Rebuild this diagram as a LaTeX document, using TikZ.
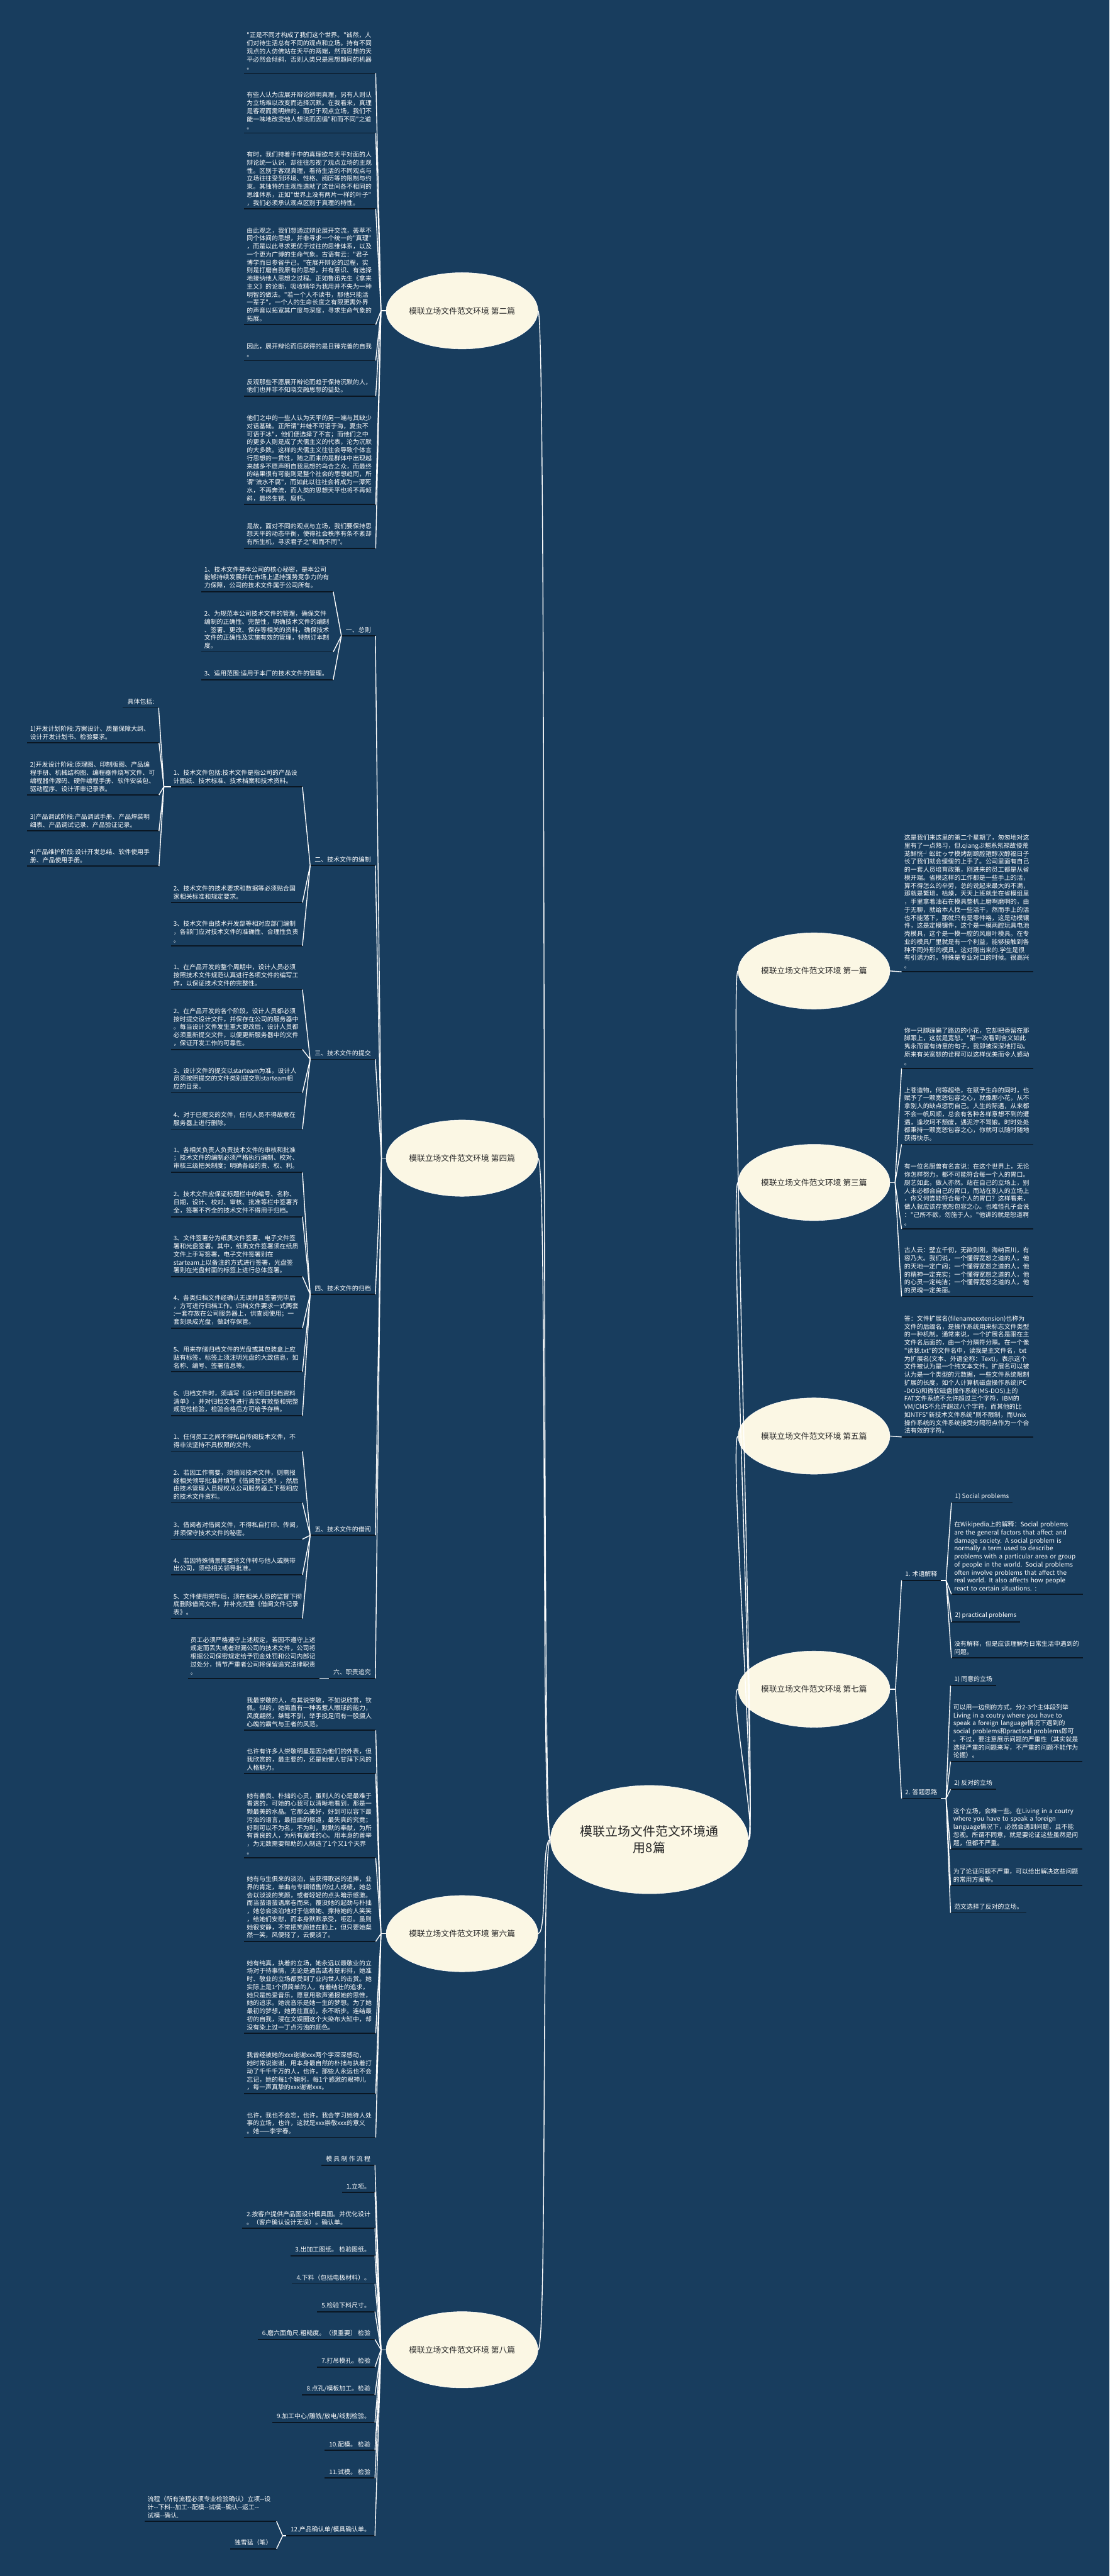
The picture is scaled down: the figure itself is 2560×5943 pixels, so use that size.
\documentclass[tikz,border=0pt]{standalone}
\usepackage{fontspec}
\newfontfamily\cjk{Noto Sans CJK SC}
\usetikzlibrary{shapes.geometric}
\definecolor{bgblue}{RGB}{24,61,94}
\definecolor{topicfill}{RGB}{251,247,228}
\definecolor{topictext}{RGB}{40,40,40}
\definecolor{ulinecol}{RGB}{10,22,34}
\tikzset{
  link/.style={draw=white, line width=1pt},
  uline/.style={draw=ulinecol, line width=1.3pt},
  topic/.style={ellipse, draw=white, line width=0.4pt, fill=topicfill, text=topictext,
    minimum width=175pt, minimum height=88pt, inner sep=0pt,
    font=\cjk\fontsize{9.25}{11}\selectfont},
  root/.style={topic, minimum width=228pt, minimum height=125pt, align=center,
    font=\cjk\fontsize{14.5}{19}\selectfont},
  tag/.style={text=white, align=left, inner xsep=5pt, inner ysep=3.5pt,
    font=\cjk\fontsize{7.2}{9.25}\selectfont,
    append after command={(\tikzlastnode.south west) edge[uline] (\tikzlastnode.south east)}},
  leaf/.style={tag, inner xsep=3pt, text width=145.5pt},
}
\begin{document}
\begin{tikzpicture}[x=0.5pt, y=-0.5pt]
\fill[bgblue] (0,0) rectangle (2560,5943);
\useasboundingbox (0,0) rectangle (2560,5943);

\node[root] (root) at (1498,4244) {模联立场文件范文环境通\\用8篇};

% left topics
\node[topic] (t2) at (1066,717) {模联立场文件范文环境 第二篇};
\node[topic] (t4) at (1066,2672) {模联立场文件范文环境 第四篇};
\node[topic] (t6) at (1066,4461) {模联立场文件范文环境 第六篇};
\node[topic] (t8) at (1066,5421) {模联立场文件范文环境 第八篇};
% right topics
\node[topic] (t1) at (1878,2240) {模联立场文件范文环境 第一篇};
\node[topic] (t3) at (1878,2728) {模联立场文件范文环境 第三篇};
\node[topic] (t5) at (1878,3313) {模联立场文件范文环境 第五篇};
\node[topic] (t7) at (1878,3897) {模联立场文件范文环境 第七篇};

\foreach \t in {t2,t4,t6,t8}
  \draw[link] (root.west) .. controls +(-22,0) and +(22,0) .. (\t.east);
\foreach \t in {t1,t3,t5,t7}
  \draw[link] (root.east) .. controls +(22,0) and +(-22,0) .. (\t.west);

%% ---------- 第二篇
\node[leaf, anchor=south west] (b1) at (563,169) {"正是不同才构成了我们这个世界。"诚然，人\\们对待生活总有不同的观点和立场。持有不同\\观点的人仿佛站在天平的两端，然而思想的天\\平必然会倾斜，否则人类只是思想趋同的机器\\。};
\node[leaf, anchor=south west] (b2) at (563,307) {有些人认为应展开辩论辨明真理，另有人则认\\为立场难以改变而选择沉默。在我看来，真理\\是客观而需明辨的，而对于观点立场，我们不\\能一味地改变他人想法而因循"和而不同"之道\\。};
\node[leaf, anchor=south west] (b3) at (563,482) {有时，我们持着手中的真理欲与天平对面的人\\辩论统一认识，却往往忽视了观点立场的主观\\性。区别于客观真理，看待生活的不同观点与\\立场往往受到环境、性格、阅历等的限制与约\\束。其独特的主观性造就了这世间各不相同的\\思维体系，正如"世界上没有两片一样的叶子"\\，我们必须承认观点区别于真理的特性。};
\node[leaf, anchor=south west] (b4) at (563,749) {由此观之，我们想通过辩论展开交流，荟萃不\\同个体间的思想，并非寻求一个统一的"真理"\\，而是以此寻求更优于过往的思维体系，以及\\一个更为广博的生命气象。古语有云："君子\\博学而日参省乎己。"在展开辩论的过程，实\\则是打磨自我原有的思想，并有意识、有选择\\地接纳他人思想之过程。正如鲁迅先生《拿来\\主义》的论断，吸收精华为我用并不失为一种\\明智的做法。"若一个人不读书，那他只能活\\一辈子"，一个人的生命长度之有限更需外界\\的声音以拓宽其广度与深度，寻求生命气象的\\拓展。};
\node[leaf, anchor=south west] (b5) at (563,832) {因此，展开辩论而后获得的是日臻完善的自我\\。};
\node[leaf, anchor=south west] (b6) at (563,914) {反观那些不愿展开辩论而趋于保持沉默的人，\\他们也并非不知晓交融思想的益处。};
\node[leaf, anchor=south west] (b7) at (563,1164) {他们之中的一些人认为天平的另一端与其缺少\\对话基础。正所谓"井蛙不可语于海，夏虫不\\可语于冰"，他们便选择了不言；而他们之中\\的更多人则是成了犬儒主义的代表，沦为沉默\\的大多数。这样的犬儒主义往往会导致个体言\\行思想的一贯性，随之而来的是群体中出现越\\来越多不愿声明自我思想的乌合之众，而最终\\的结果很有可能则是整个社会的思想趋同，所\\谓"流水不腐"，而如此以往社会将成为一潭死\\水，不再奔流，而人类的思想天平也将不再倾\\斜，最终生锈、腐朽。};
\node[leaf, anchor=south west] (b8) at (563,1265) {是故，面对不同的观点与立场，我们要保持思\\想天平的动态平衡，使得社会秩序有条不紊却\\有所生机，寻求君子之"和而不同"。};
\coordinate (j2) at (879,717);
\draw[link] (t2.west) -- (j2);
\foreach \n in {b1,b2,b3,b4,b5,b6,b7,b8} \draw[link] (j2) -- (\n.south east);

%% ---------- 第四篇
\node[tag, anchor=south east] (s1) at (866,1467) {一、总则};
\node[tag, anchor=south east] (s2) at (866,1997) {二、技术文件的编制};
\node[tag, anchor=south east] (s3) at (866,2444) {三、技术文件的提交};
\node[tag, anchor=south east] (s4) at (866,2986) {四、技术文件的归档};
\node[tag, anchor=south east] (s5) at (866,3542) {五、技术文件的借阅};
\node[tag, anchor=south east] (s6) at (866,3872) {六、职责追究};
\coordinate (j4) at (880,2672);
\draw[link] (t4.west) -- (j4);
\foreach \n in {s1,s2,s3,s4,s5,s6} \draw[link] (j4) -- (\n.south east);

% 一
\node[leaf, anchor=south west] (a1) at (465,1365) {1、技术文件是本公司的核心秘密，是本公司\\能够持续发展并在市场上坚持强势竞争力的有\\力保障，公司的技术文件属于公司所有。};
\node[leaf, anchor=south west] (a2) at (465,1504) {2、为规范本公司技术文件的管理，确保文件\\编制的正确性、完整性，明确技术文件的编制\\、签署、更改、保存等相关的资料，确保技术\\文件的正确性及实施有效的管理，特制订本制\\度。};
\node[leaf, anchor=south west] (a3) at (465,1568) {3、适用范围:适用于本厂的技术文件的管理。};
\foreach \n in {a1,a2,a3} \draw[link] (s1.south west) -- (\n.south east);

% 二
\node[leaf, anchor=south west] (d1) at (394,1815) {1、技术文件包括:技术文件是指公司的产品设\\计图纸、技术标准、技术档案和技术资料。};
\node[leaf, anchor=south west] (d2) at (394,2082) {2、技术文件的技术要求和数据等必须贴合国\\家相关标准和规定要求。};
\node[leaf, anchor=south west] (d3) at (394,2182) {3、技术文件由技术开发部等相对应部门编制\\，各部门应对技术文件的准确性、合理性负责\\。};
\foreach \n in {d1,d2,d3} \draw[link] (s2.south west) -- (\n.south east);
\node[tag, anchor=south east] (d0) at (366,1633) {具体包括:};
\node[leaf, anchor=south west] (p1) at (63,1714) {1)开发计划阶段:方案设计、质量保障大纲、\\设计开发计划书、检验要求。};
\node[leaf, anchor=south west] (p2) at (63,1834) {2)开发设计阶段:原理图、印制版图、产品编\\程手册、机械结构图、编程器件烧写文件、可\\编程器件源码、硬件编程手册、软件安装包、\\驱动程序、设计评审记录表。};
\node[leaf, anchor=south west] (p3) at (63,1917) {3)产品调试阶段:产品调试手册、产品焊装明\\细表、产品调试记录、产品验证记录。};
\node[leaf, anchor=south west] (p4) at (63,1998) {4)产品维护阶段:设计开发总结、软件使用手\\册、产品使用手册。};
\coordinate (k1) at ([xshift=-8pt]d1.south west);
\draw[link] (d1.south west) -- (k1);
\foreach \n in {d0,p1,p2,p3,p4} \draw[link] (k1) -- (\n.south east);

% 三
\node[leaf, anchor=south west] (c1) at (394,2283) {1、在产品开发的整个周期中，设计人员必须\\按照技术文件规范认真进行各项文件的编写工\\作，以保证技术文件的完整性。};
\node[leaf, anchor=south west] (c2) at (394,2421) {2、在产品开发的各个阶段，设计人员都必须\\按时提交设计文件，并保存在公司的服务器中\\。每当设计文件发生重大更改后，设计人员都\\必须重新提交文件，以便更新服务器中的文件\\，保证开发工作的可靠性。};
\node[leaf, anchor=south west] (c3) at (394,2521) {3、设计文件的提交以starteam为准，设计人\\员须按照提交的文件类别提交到starteam相\\应的目录。};
\node[leaf, anchor=south west] (c4) at (394,2605) {4、对于已提交的文件，任何人员不得故意在\\服务器上进行删除。};
\foreach \n in {c1,c2,c3,c4} \draw[link] (s3.south west) -- (\n.south east);

% 四
\node[leaf, anchor=south west] (h1) at (394,2705) {1、各相关负责人负责技术文件的审核和批准\\；技术文件的编制必须严格执行编制、校对、\\审核三级把关制度；明确各级的责、权、利。};
\node[leaf, anchor=south west] (h2) at (394,2807) {2、技术文件应保证标题栏中的编号、名称、\\日期，设计、校对、审核、批准等栏中签署齐\\全，签署不齐全的技术文件不得用于归档。};
\node[leaf, anchor=south west] (h3) at (394,2945) {3、文件签署分为纸质文件签署、电子文件签\\署和光盘签署。其中，纸质文件签署须在纸质\\文件上手写签署，电子文件签署则在\\starteam上以备注的方式进行签署，光盘签\\署则在光盘封面的标签上进行总体签署。};
\node[leaf, anchor=south west] (h4) at (394,3064) {4、各类归档文件经确认无误并且签署完毕后\\，方可进行归档工作。归档文件要求一式两套\\:一套存放在公司服务器上，供查阅使用；一\\套刻录成光盘，做封存保管。};
\node[leaf, anchor=south west] (h5) at (394,3165) {5、用来存储归档文件的光盘或其包装盒上应\\贴有标签，标签上须注明光盘的大致信息，如\\名称、编号、签署信息等。};
\node[leaf, anchor=south west] (h6) at (394,3266) {6、归档文件时，须填写《设计项目归档资料\\清单》，并对归档文件进行真实有效型和完整\\规范性检验，检验合格后方可给予存档。};
\foreach \n in {h1,h2,h3,h4,h5,h6} \draw[link] (s4.south west) -- (\n.south east);

% 五
\node[leaf, anchor=south west] (m1) at (394,3348) {1、任何员工之间不得私自传阅技术文件，不\\得非法坚持不具权限的文件。};
\node[leaf, anchor=south west] (m2) at (394,3467) {2、若因工作需要，须借阅技术文件，则需报\\经相关领导批准并填写《借阅登记表》，然后\\由技术管理人员授权从公司服务器上下载相应\\的技术文件资料。};
\node[leaf, anchor=south west] (m3) at (394,3551) {3、借阅者对借阅文件，不得私自打印、传阅，\\并须保守技术文件的秘密。};
\node[leaf, anchor=south west] (m4) at (394,3633) {4、若因特殊情景需要将文件转与他人或携带\\出公司，须经相关领导批准。};
\node[leaf, anchor=south west] (m5) at (394,3734) {5、文件使用完毕后，须在相关人员的监督下彻\\底删除借阅文件，并补充完整《借阅文件记录\\表》。};
\foreach \n in {m1,m2,m3,m4,m5} \draw[link] (s5.south west) -- (\n.south east);

% 六
\node[leaf, anchor=south east] (g1) at (737,3872) {员工必须严格遵守上述规定，若因不遵守上述\\规定而丢失或者泄漏公司的技术文件，公司将\\根据公司保密规定给予罚金处罚和公司内部记\\过处分，情节严重者公司将保留追究法律职责\\。};
\draw[link] (s6.south west) -- (g1.south east);

%% ---------- 第六篇
\node[leaf, anchor=south west] (f1) at (563,3992) {我最崇敬的人，与其说崇敬，不如说欣赏，钦\\佩。似的，她简直有一种吸惹人眼球的能力，\\风度翩然，桀骜不驯，举手投足间有一股摄人\\心魄的霸气与王者的风范。};
\node[leaf, anchor=south west] (f2) at (563,4092) {也许有许多人崇敬明星是因为他们的外表，但\\我欣赏的，最主要的，还是她使人甘拜下风的\\人格魅力。};
\node[leaf, anchor=south west] (f3) at (563,4286) {她有善良、朴拙的心灵，虽则人的心是最难于\\看透的，可她的心我可以清晰地看到，那是一\\颗最美的水晶。它那么美好，好到可以容下最\\污浊的语言，最扭曲的报道，最失真的究竟；\\好到可以不为名，不为利，默默的奉献，为所\\有善良的人，为所有魔难的心。用本身的善举\\，为无数需要帮助的人制造了1个又1个天界\\。};
\node[leaf, anchor=south west] (f4) at (563,4479) {她有与生俱来的淡泊，当获得歌迷的追捧，业\\界的肯定，单曲与专辑销售的过人成绩，她总\\会以淡淡的笑颜，或者轻轻的点头暗示感激。\\而当蜚语蜚语席卷而来，覆没她的起劲与朴拙\\，她总会淡泊地对于信赖她、撑持她的人笑笑\\，给她们安慰，而本身默默承受，哑忍。虽则\\她很安静，不常把笑颜挂在脸上，但只要她粲\\然一笑，风便轻了，云便淡了。};
\node[leaf, anchor=south west] (f5) at (563,4691) {她有纯真，执着的立场，她永远以最敬业的立\\场对于待事情，无论是通告或者是彩排，她准\\时、敬业的立场都受到了业内世人的击赏。她\\实际上是1个很简单的人，有着结壮的追求，\\她只是热爱音乐，愿意用歌声通报她的思惟，\\她的追求。她说音乐是她一生的梦想。为了她\\最初的梦想，她勇往直前，永不断步。连结最\\初的自我，浸在文娱圈这个大染布大缸中，却\\没有染上过一丁点污浊的颜色。};
\node[leaf, anchor=south west] (f6) at (563,4830) {我曾经被她的xxx谢谢xxx两个字深深感动，\\她时常说谢谢，用本身最自然的朴拙与执着打\\动了千千千万的人，也许，那些人永远也不会\\忘记，她的每1个鞠躬，每1个感激的眼神儿\\，每一声真挚的xxx谢谢xxx。};
\node[leaf, anchor=south west] (f7) at (563,4931) {也许，我也不会忘，也许，我会学习她待人处\\事的立场，也许，这就是xxx崇敬xxx的意义\\。她——李宇春。};
\coordinate (j6) at (879,4461);
\draw[link] (t6.west) -- (j6);
\foreach \n in {f1,f2,f3,f4,f5,f6,f7} \draw[link] (j6) -- (\n.south east);

%% ---------- 第八篇
\node[tag, anchor=south east] (e0) at (865,4995) {模 具 制 作 流 程};
\node[tag, anchor=south east] (e1) at (865,5058) {1.立项。};
\node[tag, anchor=south east] (e2) at (865,5141) {2.按客户提供产品图设计模具图。并优化设计\\。（客户确认设计无误）。确认单。};
\node[tag, anchor=south east] (e3) at (865,5204) {3.出加工图纸。 检验图纸。};
\node[tag, anchor=south east] (e4) at (865,5269) {4.下料（包括电极材料）。};
\node[tag, anchor=south east] (e5) at (865,5333) {5.检验下料尺寸。};
\node[tag, anchor=south east] (e6) at (865,5397) {6.磨六面角尺.粗糙度。（很重要） 检验};
\node[tag, anchor=south east] (e7) at (865,5461) {7.打吊模孔。检验};
\node[tag, anchor=south east] (e8) at (865,5525) {8.点孔/模板加工。检验};
\node[tag, anchor=south east] (e9) at (865,5589) {9.加工中心/雕铣/放电/线割检验。};
\node[tag, anchor=south east] (e10) at (865,5653) {10.配模。 检验};
\node[tag, anchor=south east] (e11) at (865,5717) {11.试模。 检验};
\node[tag, anchor=south east] (e12) at (865,5850) {12.产品确认单/模具确认单。};
\coordinate (j8) at (879,5421);
\draw[link] (t8.west) -- (j8);
\foreach \n in {e0,e1,e2,e3,e4,e5,e6,e7,e8,e9,e10,e11,e12} \draw[link] (j8) -- (\n.south east);
\node[leaf, anchor=south east] (e12a) at (638,5817) {流程（所有流程必须专业检验确认）立项-{}-设\\计-{}-下料-{}-加工-{}-配模-{}-试模-{}-确认-{}-返工-{}-\\试模-{}-确认.};
\node[tag, anchor=south east] (e12b) at (638,5880) {独雪猛（笔）};
\coordinate (k8) at ([xshift=-4pt]e12.south west);
\draw[link] (e12.south west) -- (k8);
\foreach \n in {e12a,e12b} \draw[link] (k8) -- (\n.south east);

%% ---------- 第一篇
\node[leaf, anchor=south west] (r1) at (2080,2242) {这是我们来这里的第二个星期了，匆匆地对这\\里有了一点熟习，但.qiangぶ魃系氖禄故侵荒\\茏鲜恍┘蚣虻ゥサ模烤刮颐腔箍醇次醇福日子\\长了我们就会缓缓的上手了。公司里面有自己\\的一套人员培育政策，刚进来的员工都是从省\\模开端。省模这样的工作都是一些手上的活，\\算不得怎么的辛劳，总的说起来最大的不满，\\那就是繁琐，枯燥，天天上班就坐在省模组里\\，手里拿着油石在模具整机上磨啊磨啊的，由\\于无聊，就给本人找一些活干，然而手上的活\\也不能落下，那就只有是零件咯，这是动模镶\\件，这是定模镶件，这个是一模两腔玩具电池\\壳模具，这个是一模一腔的风扇叶模具。在专\\业的模具厂里就是有一个利益，能够接触到各\\种不同外形的模具，这对刚出来的.学生是很\\有引诱力的，特殊是专业对口的时候。很高兴\\。};
\draw[link] (t1.east) -- (r1.south west);

%% ---------- 第三篇
\node[leaf, anchor=south west] (r3a) at (2080,2465) {你一只脚踩扁了路边的小花，它却把香留在那\\脚跟上，这就是宽恕。"第一次看到含义如此\\隽永而富有诗意的句子，我即被深深地打动。\\原来有关宽恕的诠释可以这样优美而令人感动\\。};
\node[leaf, anchor=south west] (r3b) at (2080,2640) {上苍造物，何等超绝，在赋予生命的同时，也\\赋予了一颗宽恕包容之心，就像那小花，从不\\拿别人的缺点惩罚自己。人生的际遇，从来都\\不会一帆风顺，总会有各种各样意想不到的遭\\遇，逢坎坷不颓废，遇泥泞不骂娘。时时处处\\都秉持一颗宽恕包容之心，你就可以随时随地\\获得快乐。};
\node[leaf, anchor=south west] (r3c) at (2080,2835) {有一位名厨曾有名言说：在这个世界上，无论\\你怎样努力，都不可能符合每一个人的胃口。\\厨艺如此，做人亦然。站在自己的立场上，别\\人未必都合自己的胃口，而站在别人的立场上\\，你又何尝能符合每个人的胃口？这样看来，\\做人就应该存宽恕包容之心。也难怪孔子会说\\："己所不欲，勿施于人。"他讲的就是恕道啊\\。};
\node[leaf, anchor=south west] (r3d) at (2080,2991) {古人云：壁立千仞，无欲则刚，海纳百川，有\\容乃大。我们说，一个懂得宽恕之道的人，他\\的天地一定广阔；一个懂得宽恕之道的人，他\\的精神一定充实；一个懂得宽恕之道的人，他\\的心灵一定纯洁；一个懂得宽恕之道的人，他\\的灵魂一定美丽。};
\coordinate (j3) at (2065,2728);
\draw[link] (t3.east) -- (j3);
\foreach \n in {r3a,r3b,r3c,r3d} \draw[link] (j3) -- (\n.south west);

%% ---------- 第五篇
\node[leaf, anchor=south west] (r5) at (2080,3315) {答：文件扩展名(filenameextension)也称为\\文件的后缀名，是操作系统用来标志文件类型\\的一种机制。通常来说，一个扩展名是跟在主\\文件名后面的，由一个分隔符分隔。在一个像\\"读我.txt"的文件名中，读我是主文件名，txt\\为扩展名(文本、外语全称：Text)，表示这个\\文件被认为是一个纯文本文件。扩展名可以被\\认为是一个类型的元数据，一些文件系统限制\\扩展的长度，如个人计算机磁盘操作系统(PC\\-DOS)和微软磁盘操作系统(MS-DOS)上的\\FAT文件系统不允许超过三个字符，IBM的\\VM/CMS不允许超过八个字符，而其他的比\\如NTFS"新技术文件系统"则不限制，而Unix\\操作系统的文件系统接受分隔符点作为一个合\\法有效的字符。};
\draw[link] (t5.east) -- (r5.south west);

%% ---------- 第七篇
\node[tag, anchor=south west, inner xsep=4pt] (s71) at (2080,3646) {1. 术语解释};
\node[tag, anchor=south west, inner xsep=4pt] (s72) at (2080,4149) {2. 答题思路};
\coordinate (j7) at (2066,3897);
\draw[link] (t7.east) -- (j7);
\foreach \n in {s71,s72} \draw[link] (j7) -- (\n.south west);

\node[tag, anchor=south west, inner xsep=4pt] (u1) at (2195,3467) {1) Social problems};
\node[leaf, anchor=south west] (u2) at (2195,3678) {在Wikipedia上的解释：Social problems\\are the general factors that affect and\\damage society. A social problem is\\normally a term used to describe\\problems with a particular area or group\\of people in the world. Social problems\\often involve problems that affect the\\real world. It also affects how people\\react to certain situations. :};
\node[tag, anchor=south west, inner xsep=4pt] (u3) at (2195,3742) {2) practical problems};
\node[leaf, anchor=south west] (u4) at (2195,3825) {没有解释，但是应该理解为日常生活中遇到的\\问题。};
\coordinate (k71) at ([xshift=6pt]s71.south east);
\draw[link] (s71.south east) -- (k71);
\foreach \n in {u1,u2,u3,u4} \draw[link] (k71) -- (\n.south west);

\node[tag, anchor=south west, inner xsep=4pt] (v1) at (2193,3889) {1) 同意的立场};
\node[leaf, anchor=south west] (v2) at (2193,4064) {可以用一边倒的方式，分2-3个主体段列举\\Living in a coutry where you have to\\speak a foreign language情况下遇到的\\social problems和practical problems即可\\。不过，要注意展示问题的严重性（其实就是\\选择严重的问题来写，不严重的问题不能作为\\论据）。};
\node[tag, anchor=south west, inner xsep=4pt] (v3) at (2193,4128) {2) 反对的立场};
\node[leaf, anchor=south west] (v4) at (2193,4266) {这个立场，会难一些。在Living in a coutry\\where you have to speak a foreign\\language情况下，必然会遇到问题，且不能\\忽视。所谓不同意，就是要论证这些虽然是问\\题，但都不严重。};
\node[leaf, anchor=south west] (v5) at (2193,4350) {为了论证问题不严重，可以给出解决这些问题\\的常用方案等。};
\node[tag, anchor=south west, inner xsep=4pt] (v6) at (2193,4413) {范文选择了反对的立场。};
\coordinate (k72) at ([xshift=6pt]s72.south east);
\draw[link] (s72.south east) -- (k72);
\foreach \n in {v1,v2,v3,v4,v5,v6} \draw[link] (k72) -- (\n.south west);
\end{tikzpicture}
\end{document}
